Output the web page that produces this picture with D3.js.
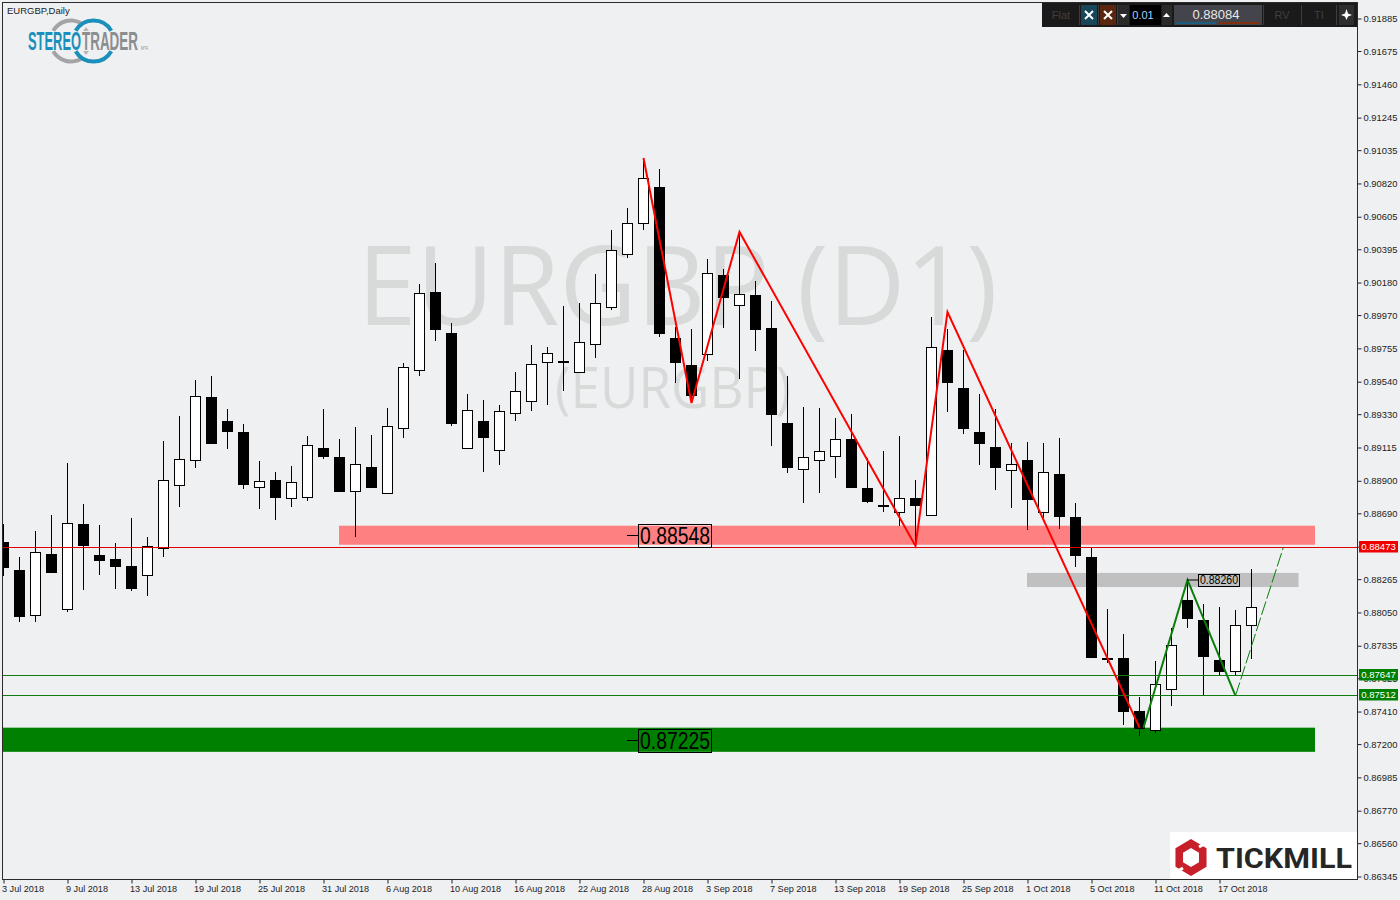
<!DOCTYPE html>
<html>
<head>
<meta charset="utf-8">
<title>EURGBP Daily</title>
<script src="https://cdn.jsdelivr.net/npm/d3@7/dist/d3.min.js"></script>
<style>
html,body{margin:0;padding:0;background:#eff0f2;}
svg{display:block;}
text{font-family:"Liberation Sans",Arial,sans-serif;}
</style>
</head>
<body>
<svg id="chart" width="1400" height="900"></svg>
<script>
const opens  = [.88505,.88324,.88031,.88427,.88070,.88621,.88421,.88395,.88350,.88290,.88464,.88871,.89032,.89439,.89286,.89215,.88858,.88905,.88787,.88793,.89112,.89054,.88832,.88989,.88819,.89239,.89613,.90119,.89854,.89110,.89286,.89097,.89336,.89413,.89665,.89672,.89601,.89781,.90020,.90363,.90563,.90797,.89822,.89648,.89717,.90229,.90033,.90100,.89887,.89273,.88974,.89032,.89058,.89170,.88854,.88742,.88697,.88789,.88677,.89745,.89499,.89215,.89118,.88965,.89034,.88697,.88944,.88664,.88408,.87758,.87756,.87414,.87289,.87554,.88130,.88001,.87743,.87670,.87967];
const highs  = [.88621,.88408,.88576,.88679,.89015,.88750,.88615,.88498,.88660,.88537,.89157,.89318,.89551,.89577,.89364,.89267,.89028,.88957,.88996,.89189,.89364,.89170,.89247,.89196,.89370,.89661,.90171,.90306,.89919,.89460,.89422,.89389,.89603,.89777,.89764,.90029,.90048,.90235,.90519,.90661,.90984,.90913,.89893,.89880,.90332,.90268,.90507,.90190,.90061,.89577,.89377,.89370,.89306,.89331,.89047,.89092,.89189,.88905,.89958,.89880,.89745,.89460,.89364,.89142,.89151,.89142,.89176,.88757,.88468,.88072,.87911,.87506,.87736,.87950,.88259,.88105,.88085,.88066,.88331];
const lows   = [.88287,.87990,.87990,.88313,.88055,.88197,.88294,.88203,.88190,.88158,.88410,.88733,.88985,.89140,.89107,.88849,.88720,.88649,.88733,.88771,.89043,.88830,.88539,.88854,.88819,.89178,.89579,.89805,.89256,.89110,.88959,.89004,.89288,.89353,.89391,.89482,.89601,.89695,.90005,.90341,.90521,.89830,.89533,.89402,.89675,.89889,.89557,.89740,.89127,.88948,.88759,.88823,.88920,.88862,.88755,.88701,.88610,.88479,.88677,.89346,.89202,.89004,.88841,.88726,.88584,.88660,.88591,.88345,.87764,.87725,.87325,.87254,.87270,.87448,.87951,.87517,.87646,.87646,.87751];
const closes = [.88345,.88029,.88438,.88313,.88626,.88487,.88391,.88352,.88210,.88477,.88903,.89039,.89446,.89140,.89224,.88881,.88897,.88797,.88890,.89129,.89062,.88836,.89006,.88860,.89252,.89633,.90111,.89882,.89275,.89355,.89185,.89349,.89478,.89652,.89723,.89666,.89794,.90046,.90390,.90563,.90853,.89856,.89669,.89454,.90240,.90089,.90104,.89882,.89333,.88991,.89052,.89090,.89168,.88862,.88771,.88736,.88787,.88746,.89762,.89540,.89243,.89146,.88991,.89006,.88784,.88955,.88675,.88416,.87764,.87754,.87416,.87306,.87586,.87838,.88016,.87771,.87674,.87967,.88084];

const priceTicks = [.91885,.91675,.91460,.91245,.91035,.90820,.90605,.90395,.90180,.89970,.89755,.89540,.89330,.89115,.88900,.88690,.88475,.88265,.88050,.87835,.87625,.87410,.87200,.86985,.86770,.86560,.86345];
const dateIndex  = [0,4,8,12,16,20,24,28,32,36,40,44,48,52,56,60,64,68,72,76];
const dateLabels = ["3 Jul 2018","9 Jul 2018","13 Jul 2018","19 Jul 2018","25 Jul 2018","31 Jul 2018","6 Aug 2018","10 Aug 2018","16 Aug 2018","22 Aug 2018","28 Aug 2018","3 Sep 2018","7 Sep 2018","13 Sep 2018","19 Sep 2018","25 Sep 2018","1 Oct 2018","5 Oct 2018","11 Oct 2018","17 Oct 2018"];

const redZigzag   = [[40,.90984],[43,.89402],[46,.90507],[57,.88479],[59,.89990],[71,.87306]];
const greenZigzag = [[71.25,.87306],[74,.88260],[77,.87512]];
const greenDashed = [[77,.87512],[80,.88473]];

const bidLine = .88473;
const levelLines = [.87647,.87512];

const redZone   = {top:.88610, bottom:.88487};
const greenZone = {top:.87306, bottom:.87150};
const grayZone  = {from:64, top:.88305, bottom:.88214};

const W = 1400, H = 900;
const frame = {l:2.5, t:2.5, r:1357.5, b:879.5};
const x = d3.scaleLinear().domain([0,78]).range([3.5,1251.5]);
const y = d3.scaleLinear().domain([.91885,.86345]).range([18.5,876.5]);
const svg = d3.select("#chart");
const fmt = d3.format(".5f");
const snap = v => Math.round(y(v)-.3)+.5;

svg.append("rect").attr("width",W).attr("height",H).attr("fill","#eff0f2");

// watermark
svg.append("text").attr("x",677.5).attr("y",325).attr("text-anchor","middle")
  .style("font-family","'Open Sans',sans-serif").style("font-size","110px").attr("fill","#d8dad9")
  .attr("textLength",640).attr("lengthAdjust","spacingAndGlyphs").text("EURGBP (D1)");
svg.append("text").attr("x",673).attr("y",408).attr("text-anchor","middle")
  .style("font-family","'Open Sans',sans-serif").style("font-size","56px").attr("fill","#d8dad9")
  .attr("textLength",236).attr("lengthAdjust","spacingAndGlyphs").text("(EURGBP)");

// zones
const zoneEnd = 1315;
svg.append("rect").attr("x",339).attr("width",zoneEnd-339).attr("y",y(redZone.top)).attr("height",y(redZone.bottom)-y(redZone.top)).attr("fill","#ff8080");
svg.append("rect").attr("x",3).attr("width",zoneEnd-3).attr("y",y(greenZone.top)).attr("height",y(greenZone.bottom)-y(greenZone.top)).attr("fill","#008000");
svg.append("rect").attr("x",x(grayZone.from)-.5).attr("width",1299-x(grayZone.from)).attr("y",y(grayZone.top)).attr("height",y(grayZone.bottom)-y(grayZone.top)).attr("fill","#c0c0c0");

// candles
const idx = d3.range(opens.length);
svg.append("clipPath").attr("id","plot").append("rect").attr("x",3).attr("y",3).attr("width",1354).attr("height",876);
const candles = svg.append("g").attr("clip-path","url(#plot)").attr("shape-rendering","crispEdges");
candles.selectAll("line").data(idx).join("line")
  .attr("x1",i=>x(i)).attr("x2",i=>x(i))
  .attr("y1",i=>y(highs[i])).attr("y2",i=>y(lows[i]))
  .attr("stroke","#000").attr("stroke-width",1);
candles.selectAll("rect").data(idx).join("rect")
  .attr("x",i=>x(i)-5).attr("width",10)
  .attr("y",i=>Math.round(y(Math.max(opens[i],closes[i])))+.5)
  .attr("height",i=>Math.max(1,Math.round(Math.abs(y(opens[i])-y(closes[i])))))
  .attr("fill",i=>closes[i]>=opens[i]?"#fff":"#000")
  .attr("stroke","#000").attr("stroke-width",1);

// level lines
svg.append("line").attr("x1",3).attr("x2",frame.r).attr("y1",snap(bidLine)).attr("y2",snap(bidLine)).attr("stroke","#e00000").attr("stroke-width",1);
svg.selectAll(".lvl").data(levelLines).join("line").attr("class","lvl")
  .attr("x1",3).attr("x2",frame.r).attr("y1",snap).attr("y2",snap)
  .attr("stroke","#117a11").attr("stroke-width",1);

// zigzags
const line = d3.line().x(d=>x(d[0])).y(d=>y(d[1]));
svg.append("path").attr("d",line(redZigzag)).attr("fill","none").attr("stroke","#ff0000").attr("stroke-width",2);
svg.append("path").attr("d",line(greenZigzag)).attr("fill","none").attr("stroke","#0a7d0a").attr("stroke-width",2);
svg.append("path").attr("d",line(greenDashed)).attr("fill","none").attr("stroke","#0a7d0a").attr("stroke-width",1).attr("stroke-dasharray","14 3");

// value boxes
function valueBox(v,bx,bw,bt,bb,tickFrom,size){
  const cy=(bt+bb)/2;
  svg.append("line").attr("x1",tickFrom).attr("x2",bx).attr("y1",cy).attr("y2",cy).attr("stroke","#000");
  svg.append("rect").attr("x",bx+.5).attr("y",bt+.5).attr("width",bw).attr("height",bb-bt).attr("fill","none").attr("stroke","#000");
  svg.append("text").attr("x",bx+2).attr("y",cy+size*.36).style("font-size",size+"px").attr("fill","#000")
    .attr("textLength",bw-3).attr("lengthAdjust","spacingAndGlyphs").text(fmt(v));
}
valueBox(.88548,638,73,524,547,627,24);
valueBox(.87225,638,73,729,752,627,24);
valueBox(.88260,1198,41,574,586,1187,12);

// axes
const yAxis = d3.axisRight(y).tickValues(priceTicks).tickFormat(fmt).tickSize(4).tickPadding(2);
const gy = svg.append("g").attr("transform",`translate(${frame.r},0)`).call(yAxis);
gy.select(".domain").remove();
gy.selectAll("text").style("font-size","9.4px").attr("fill","#222");
gy.selectAll("line").attr("stroke","#222");

const xAxis = d3.axisBottom(x).tickValues(dateIndex).tickFormat((d,i)=>dateLabels[i]).tickSize(4).tickPadding(2);
const gx = svg.append("g").attr("transform",`translate(0,${frame.b})`).call(xAxis);
gx.select(".domain").remove();
gx.selectAll("text").style("font-size","9.1px").style("text-anchor","start").attr("dx","-2").attr("fill","#222");
gx.selectAll("line").attr("stroke","#222");

// frame
svg.append("rect").attr("x",frame.l).attr("y",frame.t).attr("width",frame.r-frame.l).attr("height",frame.b-frame.t)
  .attr("fill","none").attr("stroke","#2b2b2b").attr("stroke-width",1).attr("shape-rendering","crispEdges");

// right-hand price tags
function priceTag(v,color){
  const cy=Math.round(y(v)-.3);
  svg.append("rect").attr("x",1359).attr("y",cy-6).attr("width",39).attr("height",11.5).attr("fill",color);
  svg.append("text").attr("x",1378.5).attr("y",cy+3).attr("text-anchor","middle").style("font-size","9.6px").attr("fill","#fff").text(fmt(v));
}
priceTag(bidLine,"#ee0000");
levelLines.forEach(v=>priceTag(v,"#008000"));

svg.append("text").attr("x",7).attr("y",14).style("font-size","9.5px").attr("fill","#222").text("EURGBP,Daily");

// Stereotrader logo
const logo = svg.append("g");
const arc = (cx,cy,r,a0,a1,c)=>logo.append("path").attr("transform",`translate(${cx},${cy})`)
  .attr("d",d3.arc().innerRadius(r-2).outerRadius(r+2).startAngle(a0).endAngle(a1)()).attr("fill",c);
arc(71,41,20.5,-1.05,0.5,"#a2a4a5");
arc(71,41,20.5,Math.PI-0.5,Math.PI+1.05,"#a2a4a5");
arc(93.5,41,20.5,-1.05,1.05,"#1b8fbb");
arc(93.5,41,20.5,Math.PI-1.05,Math.PI+1.05,"#1b8fbb");
logo.append("path").attr("d","M83 31 L86 27 L89 31 Z M83 51 L86 55 L89 51 Z").attr("fill","#b5b6b7");
const narrow="'Liberation Sans Narrow','Liberation Sans',sans-serif";
logo.append("text").attr("x",28).attr("y",50).style("font-family",narrow).style("font-weight","700").style("font-size","25px").attr("fill","#1b8fbb")
  .attr("textLength",53).attr("lengthAdjust","spacingAndGlyphs").text("STEREO");
logo.append("text").attr("x",82).attr("y",50).style("font-family",narrow).style("font-weight","700").style("font-size","25px").attr("fill","#8b8d8e")
  .attr("textLength",56).attr("lengthAdjust","spacingAndGlyphs").text("TRADER");
logo.append("text").attr("x",141).attr("y",49.5).style("font-size","5.5px").attr("fill","#8b8d8e")
  .attr("textLength",7).attr("lengthAdjust","spacingAndGlyphs").text("MT4");

// toolbar
const tb = svg.append("g");
tb.append("rect").attr("x",1042).attr("y",3).attr("width",315).attr("height",24).attr("fill","#1a1a1a");
const tbText=(t,xx,c,s)=>tb.append("text").attr("x",xx).attr("y",19).attr("text-anchor","middle").style("font-size",s+"px").attr("fill",c).text(t);
tbText("Flat",1061,"#3f3f3f",11);
tb.append("rect").attr("x",1081).attr("y",5).attr("width",16).attr("height",20).attr("fill","#17485a");
tb.append("rect").attr("x",1100).attr("y",5).attr("width",16).attr("height",20).attr("fill","#5a2610");
[1089,1108].forEach(c=>tb.append("path").attr("d",`M${c-4} 11 L${c+4} 19 M${c+4} 11 L${c-4} 19`).attr("stroke","#fff").attr("stroke-width",2));
tb.append("rect").attr("x",1118).attr("y",5).attr("width",11).attr("height",20).attr("fill","#2a2a2a");
tb.append("path").attr("d","M1120 14 L1127 14 L1123.5 18 Z").attr("fill","#fff");
tb.append("rect").attr("x",1130).attr("y",5).attr("width",31).attr("height",20).attr("fill","#000");
tbText("0.01",1143,"#a8d0ff",11);
tb.append("rect").attr("x",1162).attr("y",5).attr("width",10).attr("height",20).attr("fill","#2a2a2a");
tb.append("path").attr("d","M1163 17 L1170 17 L1166.5 13 Z").attr("fill","#fff");
tb.append("rect").attr("x",1174).attr("y",5).attr("width",88).attr("height",20).attr("fill","#44444c");
tbText("0.88084",1216,"#e8e8e8",13);
tb.append("rect").attr("x",1176).attr("y",22).attr("width",40).attr("height",2).attr("fill","#1a5f7f");
tb.append("rect").attr("x",1220).attr("y",22).attr("width",40).attr("height",2).attr("fill","#80300f");
tbText("RV",1282,"#3f3f3f",11);
tbText("TI",1319,"#3f3f3f",11);
[1079,1098,1117,1263,1301,1336].forEach(v=>tb.append("line").attr("x1",v+.5).attr("x2",v+.5).attr("y1",5).attr("y2",25).attr("stroke","#3d3d3d"));
tb.append("rect").attr("x",1339).attr("y",5).attr("width",15).attr("height",20).attr("fill","#2e2e2e");
tb.append("path").attr("d","M1346.5 9 L1348 13.5 L1352 15 L1348 16.5 L1346.5 20 L1345 16.5 L1341 15 L1345 13.5 Z").attr("fill","#fff");

// Tickmill logo
const tm = svg.append("g");
tm.append("rect").attr("x",1170).attr("y",832).attr("width",187).attr("height",47).attr("fill","#fff");
const hex=(r)=>d3.range(6).map(k=>{const a=Math.PI/3*k-Math.PI/2;return [1191+r*Math.cos(a)*0.97,857.5+r*Math.sin(a)];});
tm.append("path").attr("d",d3.line()(hex(18.5))+"Z"+d3.line()(hex(9.5))+"Z").attr("fill","#c8202a").attr("fill-rule","evenodd");
tm.append("path").attr("d","M1199 847 L1208 842 M1174 873 L1183 868").attr("stroke","#fff").attr("stroke-width",3);
tm.append("text").attr("x",1216).attr("y",868).style("font-family","Roboto,sans-serif").style("font-weight","700").style("font-size","28px").attr("fill","#262626")
  .attr("textLength",136).attr("lengthAdjust","spacingAndGlyphs").text("TICKMILL");
</script>
</body>
</html>
